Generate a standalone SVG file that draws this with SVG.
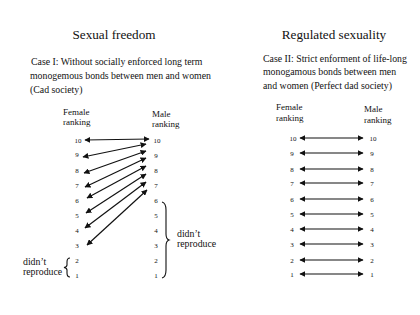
<svg xmlns="http://www.w3.org/2000/svg" width="420" height="315" viewBox="0 0 420 315">
<style>
text{font-family:"Liberation Serif","Times New Roman",serif;fill:#111}
.title{font-size:13.2px;text-anchor:middle}
.case{font-size:9.8px}
.lab{font-size:9px}
.num{font-size:7px;text-anchor:middle}
.arr{stroke:#111;stroke-width:1.2;fill:none;marker-start:url(#ah);marker-end:url(#ah)}
.brace{stroke:#111;stroke-width:1.1;fill:none}
</style>
<defs>
<marker id="ah" viewBox="0 0 10 10" refX="9" refY="5" markerWidth="6" markerHeight="6" markerUnits="userSpaceOnUse" orient="auto-start-reverse">
<path d="M0,0 L10,5 L0,10 Z" fill="#111"/>
</marker>
</defs>
<rect width="420" height="315" fill="#fff"/>
<g id="left-panel">
<text class="title" x="114" y="39">Sexual freedom</text>
<text class="case" x="31" y="65">Case I: Without socially enforced long term</text>
<text class="case" x="30" y="79">monogemous bonds between men and women</text>
<text class="case" x="30" y="93">(Cad society)</text>
<text class="lab" x="63" y="115">Female</text>
<text class="lab" x="63" y="125">ranking</text>
<text class="lab" x="152" y="117">Male</text>
<text class="lab" x="152" y="127">ranking</text>
</g>
<g id="left-female">
<text class="num" x="78" y="142.5">10</text>
<text class="num" x="77" y="156.5">9</text>
<text class="num" x="77" y="172.5">8</text>
<text class="num" x="77" y="187.5">7</text>
<text class="num" x="77" y="202.5">6</text>
<text class="num" x="77" y="217.5">5</text>
<text class="num" x="77" y="232.5">4</text>
<text class="num" x="77" y="247.5">3</text>
<text class="num" x="77" y="263">2</text>
<text class="num" x="77" y="278">1</text>
</g>
<g id="left-male">
<text class="num" x="157" y="142.5">10</text>
<text class="num" x="156" y="157.5">9</text>
<text class="num" x="156" y="172.5">8</text>
<text class="num" x="156" y="187.5">7</text>
<text class="num" x="156" y="202.5">6</text>
<text class="num" x="156" y="217.5">5</text>
<text class="num" x="156" y="232.5">4</text>
<text class="num" x="156" y="247.5">3</text>
<text class="num" x="156" y="263">2</text>
<text class="num" x="156" y="278">1</text>
</g>
<g id="left-notes">
<path class="brace" d="M162,202 Q166,203 166,210 L166,234 Q166,239 169,240 Q166,241 166,246 L166,270 Q166,277 162,278"/>
<text class="case" x="177" y="237">didn’t</text>
<text class="case" x="177" y="247">reproduce</text>
<path class="brace" d="M70,258 Q67,258 67,262 L67,265 Q67,267 64,267.5 Q67,268 67,270 L67,273 Q67,277 70,277"/>
<text class="case" x="23" y="265">didn’t</text>
<text class="case" x="23" y="275">reproduce</text>
</g>
<g id="right-panel">
<text class="title" x="334" y="39">Regulated sexuality</text>
<text class="case" x="263" y="62">Case II: Strict enforment of life-long</text>
<text class="case" x="263" y="75">monogamous bonds between men</text>
<text class="case" x="263" y="89">and women (Perfect dad society)</text>
<text class="lab" x="276" y="110">Female</text>
<text class="lab" x="276" y="121">ranking</text>
<text class="lab" x="364" y="112">Male</text>
<text class="lab" x="364" y="123">ranking</text>
</g>
<g id="right-female">
<text class="num" x="293" y="140.5">10</text>
<text class="num" x="292" y="155.5">9</text>
<text class="num" x="292" y="171.5">8</text>
<text class="num" x="292" y="185.5">7</text>
<text class="num" x="292" y="201.5">6</text>
<text class="num" x="292" y="216.5">5</text>
<text class="num" x="292" y="231.5">4</text>
<text class="num" x="292" y="246.5">3</text>
<text class="num" x="292" y="262.5">2</text>
<text class="num" x="292" y="276.5">1</text>
</g>
<g id="right-male">
<text class="num" x="373" y="140.5">10</text>
<text class="num" x="372" y="155.5">9</text>
<text class="num" x="372" y="171.5">8</text>
<text class="num" x="372" y="185.5">7</text>
<text class="num" x="372" y="201.5">6</text>
<text class="num" x="372" y="216.5">5</text>
<text class="num" x="372" y="231.5">4</text>
<text class="num" x="372" y="246.5">3</text>
<text class="num" x="372" y="262.5">2</text>
<text class="num" x="372" y="276.5">1</text>
</g>
<g id="connectors">
<line class="arr" x1="85" y1="140" x2="149" y2="139"/>
<line class="arr" x1="83" y1="157" x2="146" y2="144"/>
<line class="arr" x1="84" y1="173" x2="146" y2="151"/>
<line class="arr" x1="85" y1="187" x2="146" y2="158"/>
<line class="arr" x1="87" y1="198" x2="146" y2="166"/>
<line class="arr" x1="86" y1="213" x2="146" y2="174"/>
<line class="arr" x1="85" y1="228" x2="146" y2="182"/>
<line class="arr" x1="87" y1="245" x2="147" y2="190"/>
<line class="arr" x1="300" y1="138" x2="363" y2="138"/>
<line class="arr" x1="300" y1="153" x2="363" y2="153"/>
<line class="arr" x1="300" y1="169" x2="363" y2="169"/>
<line class="arr" x1="300" y1="183" x2="363" y2="183"/>
<line class="arr" x1="300" y1="199" x2="363" y2="199"/>
<line class="arr" x1="300" y1="214" x2="363" y2="214"/>
<line class="arr" x1="300" y1="229" x2="363" y2="229"/>
<line class="arr" x1="300" y1="244" x2="363" y2="244"/>
<line class="arr" x1="300" y1="260" x2="363" y2="260"/>
<line class="arr" x1="300" y1="274" x2="363" y2="274"/>
</g>
</svg>
